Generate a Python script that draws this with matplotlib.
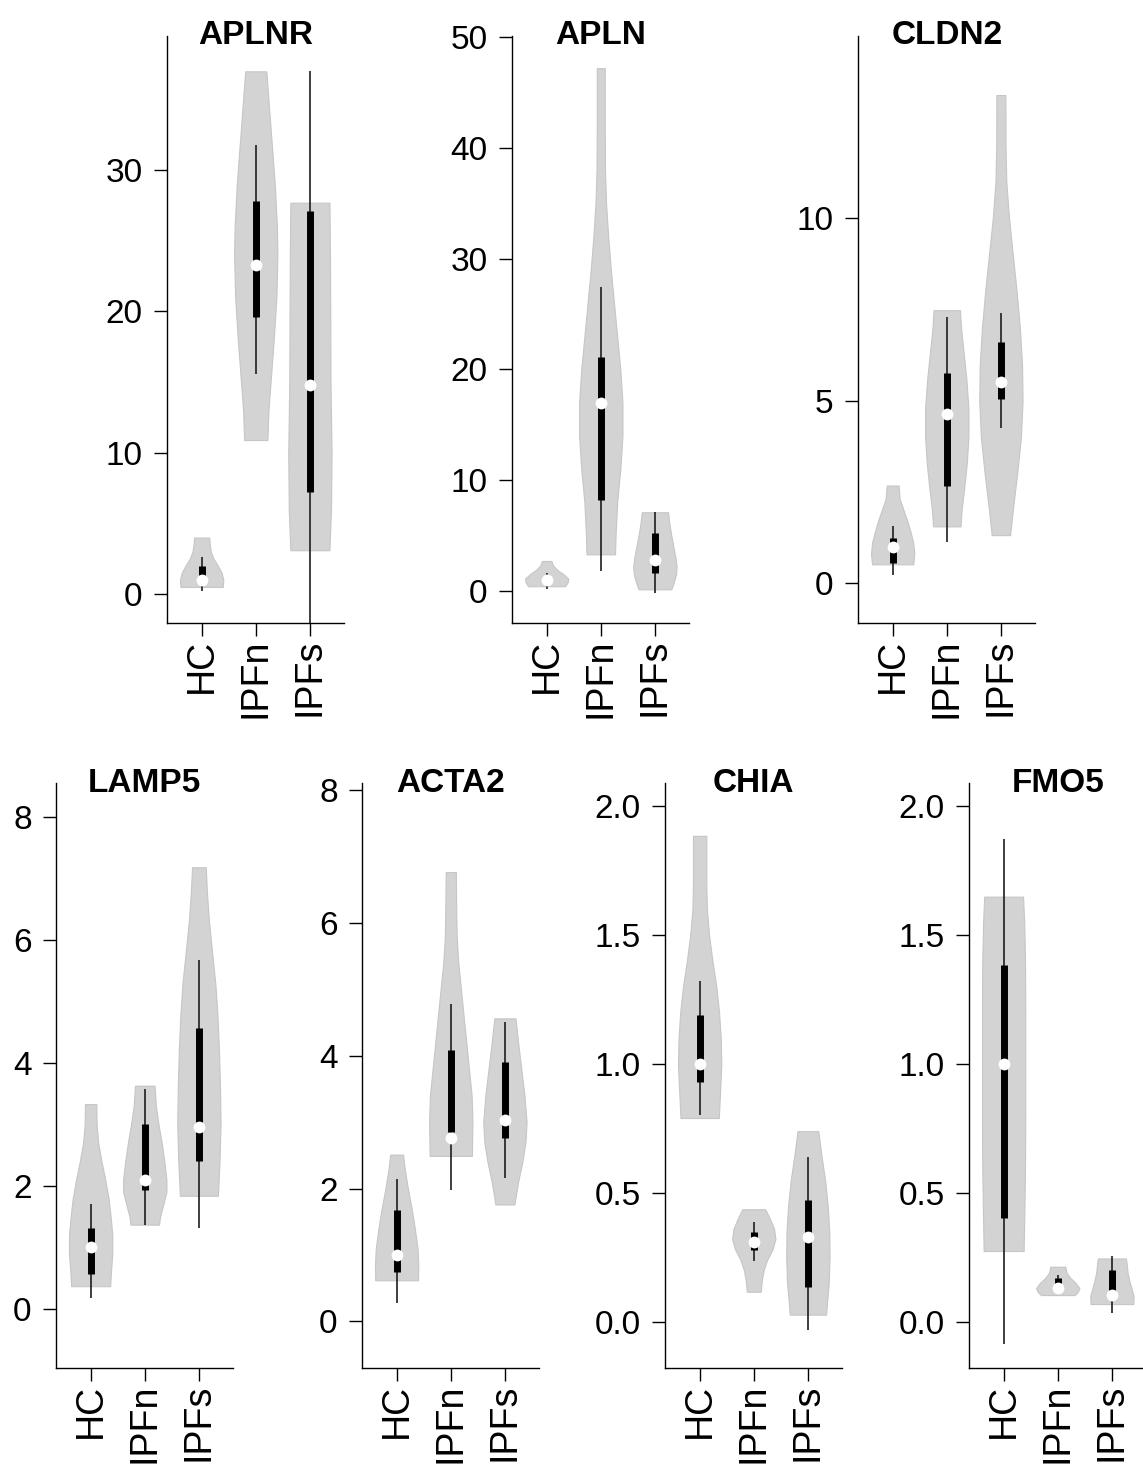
import matplotlib.pyplot as plt

plt.rcParams['font.family'] = ['Liberation Sans', 'DejaVu Sans']

groups = ["HC", "IPFn", "IPFs"]

# violin outlines: value levels and relative half widths per group
# box stats per group: whisker low, q1, median, q3, whisker high
aplnr_y = [[4.0, 3.5, 3.0, 2.5, 2.0, 1.5, 1.0, 0.5],
           [37.0, 35, 32, 29, 26, 24, 21, 18, 15, 13, 10.9],
           [27.7, 24, 20, 15, 10, 6, 3.1]]
aplnr_w = [[0.14, 0.15, 0.17, 0.22, 0.30, 0.37, 0.40, 0.39],
           [0.20, 0.24, 0.30, 0.36, 0.40, 0.41, 0.39, 0.34, 0.28, 0.24, 0.22],
           [0.37, 0.38, 0.385, 0.39, 0.41, 0.40, 0.37]]
aplnr_box = [[0.2, 0.9, 1.0, 2.0, 2.6], [15.6, 19.6, 23.3, 27.8, 31.8], [-3.0, 7.2, 14.8, 27.1, 37.0]]

apln_y = [[2.7, 2.3, 1.9, 1.5, 1.1, 0.8, 0.42],
          [47.2, 42, 38, 35, 32, 29, 26, 23, 20, 17, 14, 11, 8, 5, 3.3],
          [7.1, 6.2, 5.0, 4.0, 3.0, 2.2, 1.5, 0.8, 0.14]]
apln_w = [[0.09, 0.12, 0.20, 0.32, 0.41, 0.40, 0.35],
          [0.075, 0.075, 0.08, 0.10, 0.14, 0.19, 0.25, 0.31, 0.37, 0.41, 0.41, 0.37, 0.31, 0.28, 0.27],
          [0.25, 0.27, 0.31, 0.35, 0.39, 0.41, 0.40, 0.36, 0.31]]
apln_box = [[0.2, 0.8, 1.0, 1.2, 1.65], [1.8, 8.2, 17.0, 21.1, 27.4], [-0.2, 1.6, 2.8, 5.2, 7.1]]

cldn2_y = [[2.67, 2.3, 2.0, 1.7, 1.4, 1.1, 0.8, 0.51],
           [7.48, 7.0, 6.3, 5.6, 4.8, 4.0, 3.3, 2.6, 2.0, 1.55],
           [13.38, 12, 11, 10, 9, 8, 7, 6, 5, 4, 3, 2, 1.31]]
cldn2_w = [[0.11, 0.13, 0.20, 0.27, 0.33, 0.38, 0.40, 0.38],
           [0.25, 0.27, 0.32, 0.37, 0.41, 0.41, 0.38, 0.33, 0.28, 0.26],
           [0.083, 0.085, 0.10, 0.15, 0.22, 0.29, 0.35, 0.39, 0.40, 0.37, 0.30, 0.22, 0.17]]
cldn2_box = [[0.21, 0.55, 0.99, 1.23, 1.57], [1.12, 2.67, 4.62, 5.76, 7.28], [4.24, 5.04, 5.52, 6.61, 7.41]]

lamp5_y = [[3.33, 3.0, 2.7, 2.4, 2.1, 1.8, 1.5, 1.2, 0.9, 0.6, 0.37],
           [3.63, 3.3, 3.0, 2.7, 2.4, 2.1, 1.9, 1.7, 1.5, 1.37],
           [7.18, 6.8, 6.3, 5.8, 5.3, 4.8, 4.2, 3.6, 3.0, 2.4, 1.84]]
lamp5_w = [[0.105, 0.11, 0.14, 0.20, 0.27, 0.33, 0.37, 0.40, 0.40, 0.375, 0.36],
           [0.185, 0.21, 0.26, 0.32, 0.37, 0.41, 0.41, 0.35, 0.29, 0.27],
           [0.13, 0.15, 0.19, 0.25, 0.31, 0.35, 0.38, 0.40, 0.41, 0.39, 0.36]]
lamp5_box = [[0.17, 0.56, 1.0, 1.32, 1.70], [1.37, 1.93, 2.09, 3.01, 3.57], [1.31, 2.41, 2.95, 4.57, 5.67]]

acta2_y = [[2.51, 2.3, 2.0, 1.7, 1.4, 1.1, 0.85, 0.62],
           [6.76, 6.3, 5.8, 5.4, 5.0, 4.6, 4.2, 3.8, 3.4, 3.0, 2.49],
           [4.56, 4.2, 3.8, 3.4, 3.0, 2.7, 2.4, 2.1, 1.76]]
acta2_w = [[0.12, 0.15, 0.21, 0.28, 0.34, 0.39, 0.405, 0.40],
           [0.095, 0.10, 0.11, 0.14, 0.19, 0.24, 0.29, 0.34, 0.39, 0.405, 0.395],
           [0.20, 0.25, 0.31, 0.37, 0.41, 0.39, 0.33, 0.25, 0.18]]
acta2_box = [[0.28, 0.75, 1.0, 1.68, 2.15], [1.98, 2.85, 2.76, 4.09, 4.78], [2.16, 2.76, 3.03, 3.91, 4.51]]

chia_y = [[1.885, 1.7, 1.6, 1.5, 1.4, 1.3, 1.2, 1.1, 1.0, 0.9, 0.79],
          [0.436, 0.40, 0.36, 0.32, 0.28, 0.24, 0.20, 0.16, 0.116],
          [0.739, 0.65, 0.55, 0.45, 0.35, 0.25, 0.15, 0.08, 0.027]]
chia_w = [[0.12, 0.12, 0.13, 0.17, 0.23, 0.30, 0.35, 0.38, 0.39, 0.37, 0.345],
          [0.215, 0.30, 0.38, 0.405, 0.35, 0.25, 0.185, 0.15, 0.13],
          [0.195, 0.25, 0.32, 0.37, 0.40, 0.405, 0.39, 0.36, 0.34]]
chia_box = [[0.80, 0.93, 1.0, 1.19, 1.32], [0.236, 0.278, 0.309, 0.347, 0.388], [-0.033, 0.134, 0.327, 0.471, 0.638]]

fmo5_y = [[1.649, 1.55, 1.4, 1.2, 1.0, 0.8, 0.6, 0.45, 0.274],
          [0.213, 0.19, 0.17, 0.15, 0.13, 0.115, 0.103],
          [0.245, 0.22, 0.19, 0.16, 0.13, 0.10, 0.068]]
fmo5_w = [[0.35, 0.37, 0.385, 0.39, 0.39, 0.39, 0.385, 0.375, 0.36],
          [0.14, 0.16, 0.23, 0.33, 0.40, 0.37, 0.31],
          [0.26, 0.275, 0.29, 0.32, 0.36, 0.40, 0.395]]
fmo5_box = [[-0.087, 0.403, 1.0, 1.384, 1.874], [0.12, 0.128, 0.13, 0.168, 0.18], [0.032, 0.108, 0.105, 0.202, 0.255]]

W, H = 1143, 1469
fig = plt.figure(figsize=(W / 100, H / 100), dpi=100)


def panel(left_px, top_px, bottom_px, title, ys, ws, box, ylim, yticks, ylabels):
    ax = fig.add_axes([left_px / W, 1 - bottom_px / H, 177 / W, (bottom_px - top_px) / H])
    pos = [1, 2, 3]
    stats = []
    for y, w, b in zip(ys, ws, box):
        stats.append(dict(coords=y, vals=w, mean=b[2], median=b[2], min=min(y), max=max(y)))
    parts = ax.violin(stats, positions=pos, widths=0.8, showmeans=False,
                      showextrema=False, showmedians=False)
    for body in parts['bodies']:
        body.set_facecolor('#d3d3d3')
        body.set_edgecolor('#c6c6c6')
        body.set_linewidth(0.8)
        body.set_alpha(1)
    ax.vlines(pos, [b[0] for b in box], [b[4] for b in box], color='#1e1e1e', lw=1.2, zorder=2)
    ax.vlines(pos, [b[1] for b in box], [b[3] for b in box], color='black', lw=5, zorder=3)
    ax.plot(pos, [b[2] for b in box], 'o', color='white', ms=8.5, mec='none', zorder=4)

    ax.set_xlim(0.36, 3.63)
    ax.set_ylim(*ylim)
    ax.set_xticks(pos, groups, rotation=90, fontsize=27)
    ax.set_yticks(yticks, ylabels, fontsize=24)
    ax.tick_params(axis='y', length=9.5, width=1, pad=8)
    ax.tick_params(axis='x', length=9.5, width=1, pad=2)
    for s in ['top', 'right']:
        ax.spines[s].set_visible(False)
    for s in ['left', 'bottom']:
        ax.spines[s].set_linewidth(1)
    ax.text(2, ylim[1], title, ha='center', va='center', fontsize=24,
            fontweight='bold', clip_on=False)
    return ax


panel(167, 36, 623, "APLNR", aplnr_y, aplnr_w, aplnr_box, (-2.05, 39.5), [0, 10, 20, 30], ["0", "10", "20", "30"])
panel(512, 36, 623, "APLN", apln_y, apln_w, apln_box, (-2.9, 50.1), [0, 10, 20, 30, 40, 50], ["0", "10", "20", "30", "40", "50"])
panel(858, 36, 623, "CLDN2", cldn2_y, cldn2_w, cldn2_box, (-1.1, 15.0), [0, 5, 10], ["0", "5", "10"])

panel(56, 783, 1368, "LAMP5", lamp5_y, lamp5_w, lamp5_box, (-0.96, 8.55), [0, 2, 4, 6, 8], ["0", "2", "4", "6", "8"])
panel(362, 783, 1368, "ACTA2", acta2_y, acta2_w, acta2_box, (-0.7, 8.1), [0, 2, 4, 6, 8], ["0", "2", "4", "6", "8"])
panel(665, 783, 1368, "CHIA", chia_y, chia_w, chia_box, (-0.18, 2.09), [0, 0.5, 1.0, 1.5, 2.0], ["0.0", "0.5", "1.0", "1.5", "2.0"])
panel(969, 783, 1368, "FMO5", fmo5_y, fmo5_w, fmo5_box, (-0.18, 2.09), [0, 0.5, 1.0, 1.5, 2.0], ["0.0", "0.5", "1.0", "1.5", "2.0"])

fig.savefig('out.png', dpi=100)
